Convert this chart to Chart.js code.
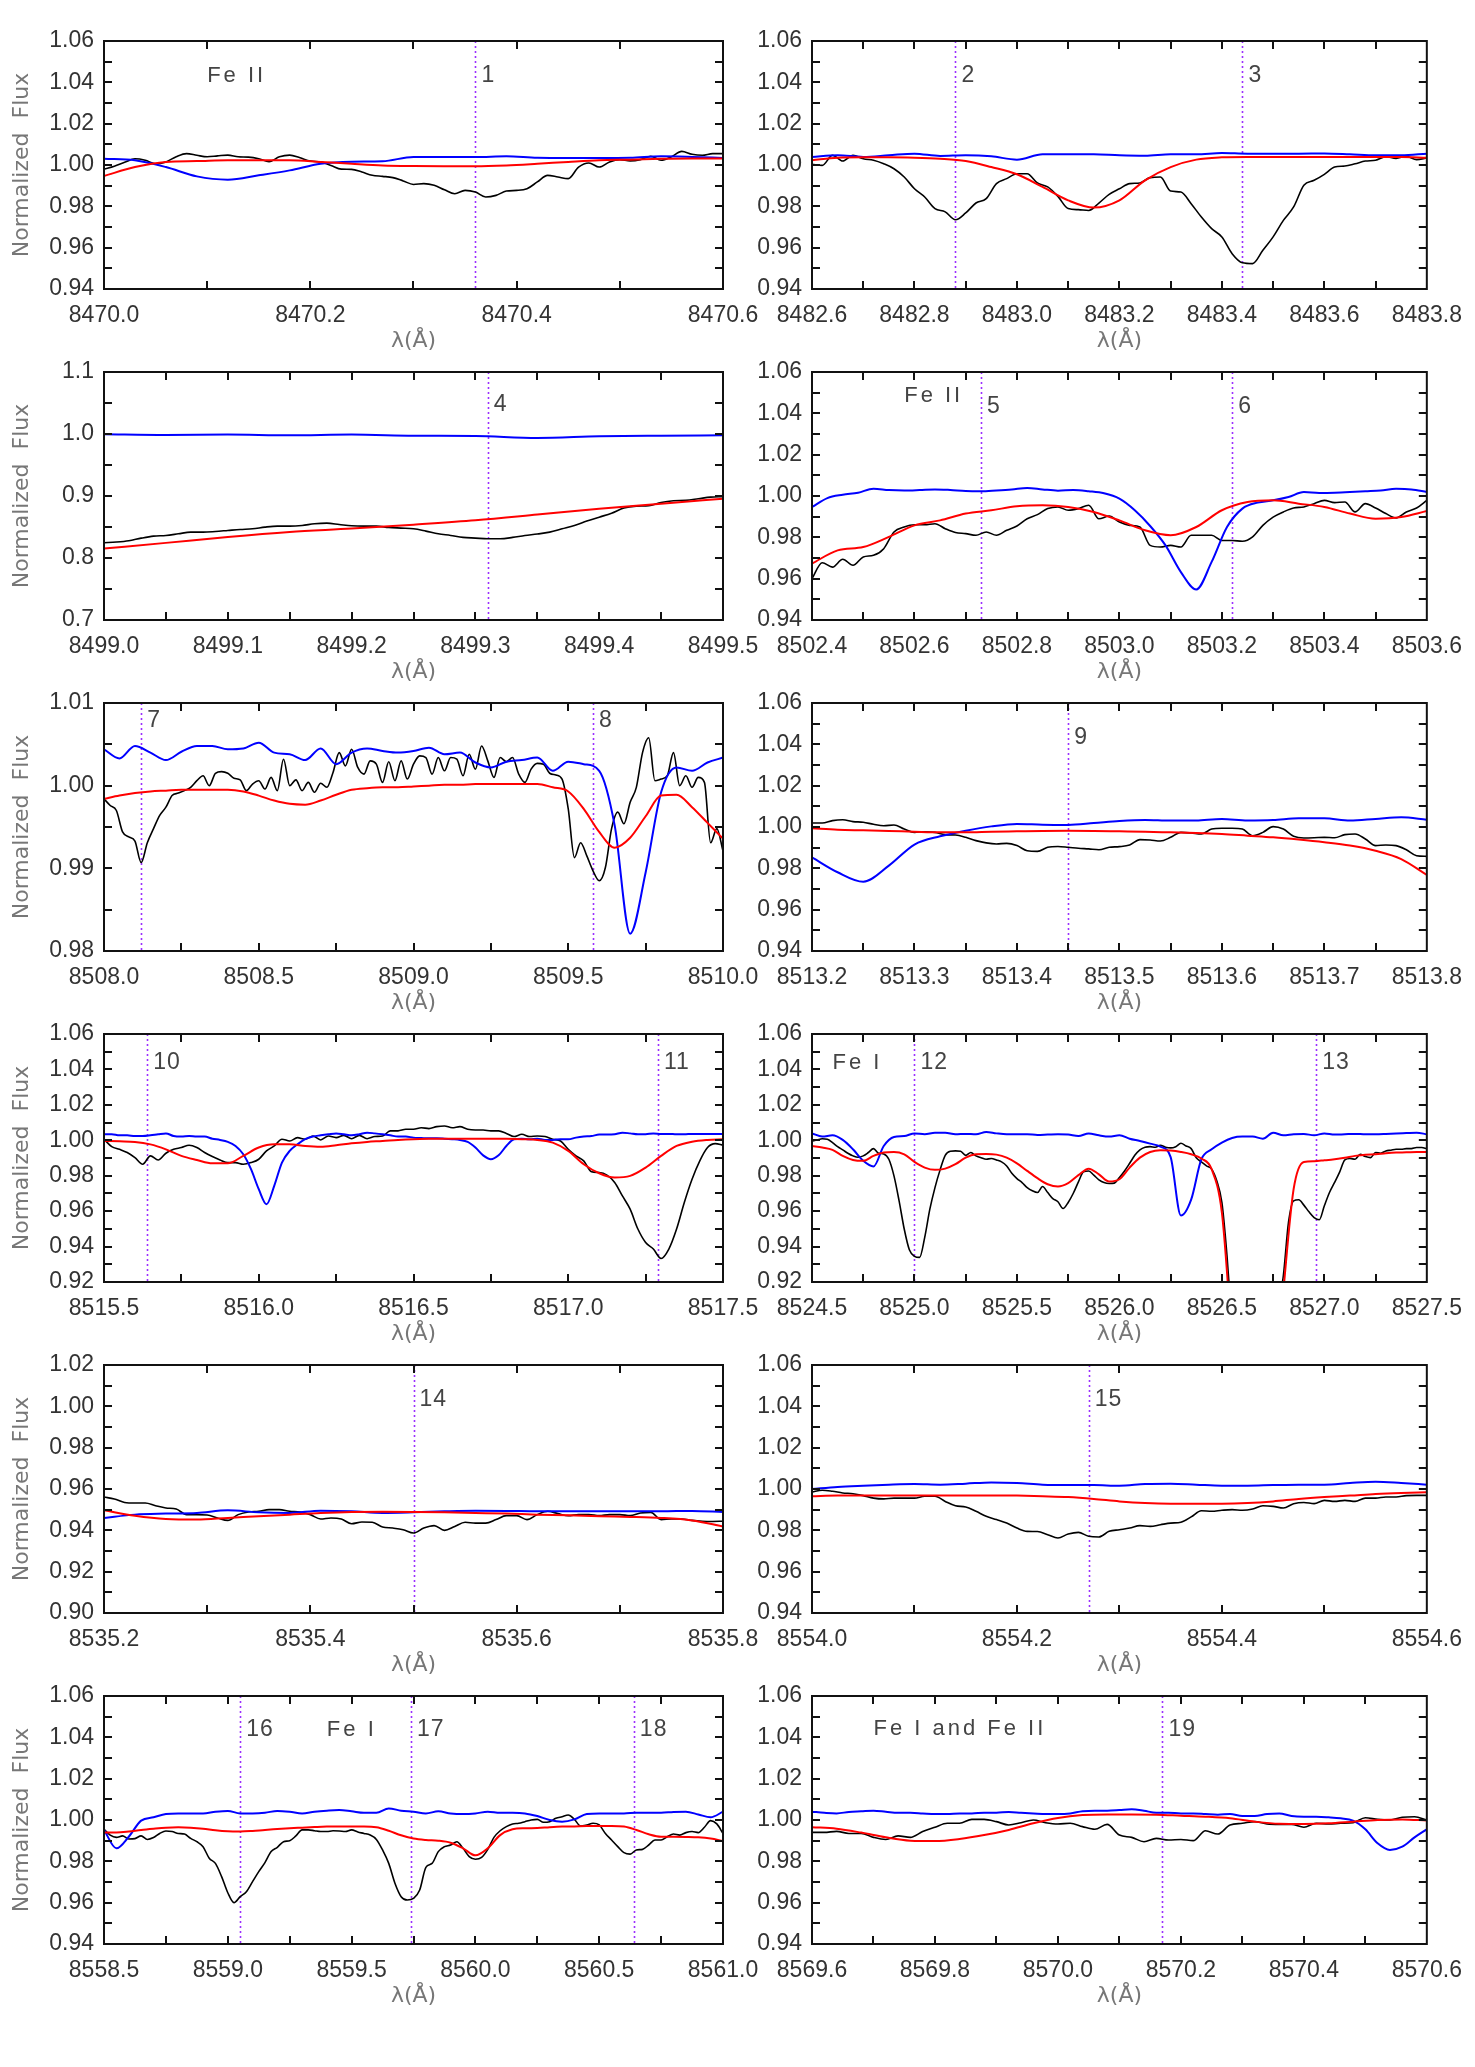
<!DOCTYPE html>
<html>
<head>
<meta charset="utf-8">
<title>Fe line comparison</title>
<script src="https://cdn.jsdelivr.net/npm/chart.js@4.4.1/dist/chart.umd.min.js"></script>
<style>
  body { margin: 0; background: #fff; }
  #page { position: relative; width: 1475px; height: 2067px; background: #fff; }
  #page canvas { position: absolute; }
</style>
</head>
<body>
<div id="page"></div>
<script>
// axis ranges per panel (left to right, top to bottom)
const xMin = [8470.0, 8482.6, 8499.0, 8502.4, 8508.0, 8513.2, 8515.5, 8524.5, 8535.2, 8554.0, 8558.5, 8569.6];
const xMax = [8470.6, 8483.8, 8499.5, 8503.6, 8510.0, 8513.8, 8517.5, 8527.5, 8535.8, 8554.6, 8561.0, 8570.6];
const yMin = [0.94, 0.94, 0.7, 0.94, 0.98, 0.94, 0.92, 0.92, 0.90, 0.94, 0.94, 0.94];
const yMax = [1.06, 1.06, 1.1, 1.06, 1.01, 1.06, 1.06, 1.06, 1.02, 1.06, 1.06, 1.06];

// tick labels
const xTicks = [
  [8470.0, 8470.2, 8470.4, 8470.6],
  [8482.6, 8482.8, 8483.0, 8483.2, 8483.4, 8483.6, 8483.8],
  [8499.0, 8499.1, 8499.2, 8499.3, 8499.4, 8499.5],
  [8502.4, 8502.6, 8502.8, 8503.0, 8503.2, 8503.4, 8503.6],
  [8508.0, 8508.5, 8509.0, 8509.5, 8510.0],
  [8513.2, 8513.3, 8513.4, 8513.5, 8513.6, 8513.7, 8513.8],
  [8515.5, 8516.0, 8516.5, 8517.0, 8517.5],
  [8524.5, 8525.0, 8525.5, 8526.0, 8526.5, 8527.0, 8527.5],
  [8535.2, 8535.4, 8535.6, 8535.8],
  [8554.0, 8554.2, 8554.4, 8554.6],
  [8558.5, 8559.0, 8559.5, 8560.0, 8560.5, 8561.0],
  [8569.6, 8569.8, 8570.0, 8570.2, 8570.4, 8570.6]
];
const fluxTicks = [0.94, 0.96, 0.98, 1.00, 1.02, 1.04, 1.06];
const yTicks = [
  fluxTicks, fluxTicks,
  [0.7, 0.8, 0.9, 1.0, 1.1],
  fluxTicks,
  [0.98, 0.99, 1.00, 1.01],
  fluxTicks,
  [0.92, 0.94, 0.96, 0.98, 1.00, 1.02, 1.04, 1.06],
  [0.92, 0.94, 0.96, 0.98, 1.00, 1.02, 1.04, 1.06],
  [0.90, 0.92, 0.94, 0.96, 0.98, 1.00, 1.02],
  fluxTicks, fluxTicks, fluxTicks
];
const xMinorStep = [0.1, 0.1, 0.05, 0.1, 0.25, 0.05, 0.25, 0.25, 0.1, 0.1, 0.25, 0.1];
const yMinorStep = [0.01, 0.01, 0.05, 0.01, 0.005, 0.01, 0.01, 0.01, 0.01, 0.01, 0.01, 0.01];

// marked lines and their numbers
const lineWaves = [[8470.36], [8482.88, 8483.44], [8499.31], [8502.73, 8503.22], [8508.12, 8509.58], [8513.45],
  [8515.64, 8517.29], [8525.0, 8526.96], [8535.5], [8554.27], [8559.05, 8559.74, 8560.64], [8570.17]];
const lineNames = [['1'], ['2', '3'], ['4'], ['5', '6'], ['7', '8'], ['9'], ['10', '11'], ['12', '13'], ['14'], ['15'],
  ['16', '17', '18'], ['19']];
const ionText = ['Fe II', '', '', 'Fe II', '', '', '', 'Fe I', '', '', 'Fe I', 'Fe I and Fe II'];
const ionWave = [8470.10, null, null, 8502.58, null, null, null, 8524.6, null, null, 8559.40, 8569.70];

// spectra, sampled evenly across each panel's wavelength range
const p1Black = [0.998, 0.9994, 1.0013, 1.003, 1.0023, 1.0006, 1.0015, 1.004, 1.0055, 1.0047,
  1.004, 1.0044, 1.0048, 1.004, 1.0038, 1.003, 1.0016, 1.004, 1.0048, 1.0035,
  1.0019, 1.0015, 0.9998, 0.998, 0.9979, 0.9966, 0.995, 0.9945, 0.9939, 0.9923,
  0.9906, 0.991, 0.9902, 0.988, 0.9861, 0.9877, 0.9869, 0.9845, 0.9853, 0.9874,
  0.9877, 0.9885, 0.9918, 0.995, 0.9942, 0.9934, 0.999, 1.001, 0.999, 1.0015,
  1.0026, 1.002, 1.0026, 1.0042, 1.0023, 1.004, 1.0066, 1.0052, 1.0047, 1.0055, 1.0055];
const p1Blue = [1.003, 1.0023, 0.999, 0.9945, 0.9929, 0.995, 0.9974, 1.0006, 1.0016, 1.0018, 1.0039,
  1.0039, 1.0039, 1.0042, 1.0035, 1.0034, 1.0034, 1.0035, 1.0042, 1.0039, 1.0034];
const p1Red = [0.9947, 0.999, 1.0015, 1.0019, 1.0023, 1.0023, 1.0023, 1.0015, 1.0006, 0.9998, 0.9995,
  0.9994, 0.9994, 0.9998, 1.0006, 1.0015, 1.0023, 1.0026, 1.003, 1.0032, 1.0032];

const p2Black = [1.0003, 0.9998, 1.0047, 1.0019, 1.0047, 1.003, 1.0023, 1.0006, 0.9982, 0.9942,
  0.9885, 0.9845, 0.9789, 0.9773, 0.9735, 0.9768, 0.9816, 0.9837, 0.991, 0.9934,
  0.9958, 0.9958, 0.9913, 0.9894, 0.9848, 0.9789, 0.9784, 0.978, 0.9816, 0.9858,
  0.9885, 0.991, 0.9913, 0.9939, 0.9942, 0.9874, 0.9869, 0.9813, 0.9748, 0.9692,
  0.9652, 0.9571, 0.9527, 0.9523, 0.9587, 0.9652, 0.9732, 0.9797, 0.9902, 0.9926,
  0.9955, 0.999, 0.9995, 1.0006, 1.0019, 1.0023, 1.004, 1.0032, 1.0042, 1.0026, 1.0034];
const p2Blue = [1.0039, 1.0047, 1.0039, 1.0047, 1.0055, 1.0044, 1.0047, 1.0042, 1.0026, 1.0052, 1.0052,
  1.0052, 1.0047, 1.0045, 1.0052, 1.0052, 1.0058, 1.0055, 1.0055, 1.0055, 1.0056, 1.0052, 1.0047, 1.0047, 1.0055];
const p2Red = [1.0023, 1.0035, 1.0037, 1.0037, 1.0035, 1.003, 1.0019, 0.999, 0.9955, 0.9894, 0.9829,
  0.9794, 0.9829, 0.9926, 0.999, 1.0026, 1.0037, 1.0039, 1.0039, 1.0039, 1.0039, 1.0039, 1.0039, 1.0039, 1.0035];

const p3Black = [0.8246, 0.8257, 0.8278, 0.832, 0.8353, 0.8364, 0.839, 0.8417, 0.8417, 0.8428,
  0.8444, 0.846, 0.8471, 0.8498, 0.8514, 0.8514, 0.8525, 0.8552, 0.8562, 0.8541,
  0.852, 0.8514, 0.8514, 0.8493, 0.8482, 0.8471, 0.8434, 0.8391, 0.8364, 0.8332,
  0.8321, 0.831, 0.831, 0.8332, 0.8364, 0.8386, 0.8417, 0.8471, 0.8525, 0.8595,
  0.8659, 0.8723, 0.8806, 0.8836, 0.8845, 0.8896, 0.8923, 0.893, 0.8955, 0.8982, 0.899];
const p3Blue = [0.9995, 0.9984, 0.999, 0.9979, 0.999, 0.9973, 0.9968, 0.9936, 0.9963, 0.9973, 0.9979];
const p3Red = [0.8153, 0.8244, 0.834, 0.842, 0.8474, 0.8538, 0.8608, 0.87, 0.8795, 0.8875, 0.8956];

const p4Black = [0.96, 0.9677, 0.9656, 0.9694, 0.9665, 0.9705, 0.9713, 0.9745, 0.9826, 0.985,
  0.9861, 0.9861, 0.9866, 0.9842, 0.9823, 0.9818, 0.981, 0.9826, 0.981, 0.9834,
  0.9855, 0.989, 0.991, 0.9939, 0.9947, 0.9931, 0.9939, 0.9955, 0.989, 0.9903,
  0.9874, 0.9858, 0.985, 0.9761, 0.9753, 0.9761, 0.9753, 0.981, 0.981, 0.981,
  0.9785, 0.9785, 0.9781, 0.9802, 0.9858, 0.9898, 0.9923, 0.9942, 0.9947, 0.9963,
  0.9979, 0.9968, 0.9971, 0.9923, 0.9963, 0.9942, 0.9915, 0.9894, 0.9923, 0.9942, 0.9979];
const p4Blue = [0.9947, 0.999, 1.0006, 1.0016, 1.0035, 1.0029, 1.0027, 1.0029, 1.0032, 1.0029,
  1.0024, 1.0023, 1.0027, 1.0032, 1.0039, 1.0032, 1.0026, 1.0029, 1.0023, 1.0013,
  0.9987, 0.9931, 0.9855, 0.9761, 0.9632, 0.9548, 0.9681, 0.985, 0.9939, 0.9968,
  0.9979, 0.9995, 1.0019, 1.0015, 1.0016, 1.0019, 1.0023, 1.0027, 1.0035, 1.0032, 1.0019];
const p4Red = [0.9673, 0.9737, 0.9753, 0.9802, 0.9858, 0.9882, 0.9915, 0.9931, 0.995, 0.9955, 0.9947,
  0.9923, 0.9882, 0.9834, 0.981, 0.985, 0.9931, 0.9971, 0.9979, 0.9963, 0.9947, 0.9915, 0.989, 0.9898, 0.9927];

const p5Black = [0.9984, 0.9976, 0.9970, 0.9944, 0.9938, 0.9933, 0.9907, 0.9931, 0.9948, 0.9964,
  0.9974, 0.9988, 0.9991, 0.9994, 0.9998, 1.0006, 1.0012, 1.0000, 1.0015, 1.0017,
  1.0015, 1.0009, 1.0007, 0.9994, 1.0002, 1.0006, 0.9996, 1.0010, 0.9994, 1.0032,
  1.0000, 1.0007, 0.9994, 1.0004, 0.9992, 1.0003, 0.9998, 1.0016, 1.0040, 1.0024,
  1.0044, 1.0022, 1.0014, 1.0030, 1.0026, 1.0004, 1.0029, 1.0006, 1.0030, 1.0008,
  1.0026, 1.0036, 1.0034, 1.0014, 1.0034, 1.0018, 1.0034, 1.0032, 1.0012, 1.0038,
  1.0020, 1.0048, 1.0030, 1.0010, 1.0034, 1.0029, 1.0034, 1.0014, 1.0004, 1.0020,
  1.0027, 1.0026, 1.0015, 1.0013, 1.0008, 0.9972, 0.9913, 0.9931, 0.9915, 0.9897,
  0.9885, 0.9901, 0.9948, 0.9968, 0.9954, 0.9980, 0.9998, 1.0040, 1.0058, 1.0006,
  1.0008, 1.0012, 1.0040, 1.0000, 1.0012, 0.9998, 1.0010, 1.0004, 0.9931, 0.9948, 0.9921];
const p5Blue = [1.0044, 1.0033, 1.0048, 1.0040, 1.0031, 1.0041, 1.0048, 1.0048, 1.0044, 1.0045,
  1.0052, 1.0040, 1.0038, 1.0031, 1.0045, 1.0026, 1.0040, 1.0045, 1.0042, 1.0040,
  1.0042, 1.0046, 1.0038, 1.0040, 1.0028, 1.0022, 1.0029, 1.0031, 1.0034, 1.0018,
  1.0029, 1.0026, 1.0018, 0.9952, 0.9821, 0.9895, 0.9992, 1.0022, 1.0018, 1.0028, 1.0034];
const p5Red = [0.9984, 0.9988, 0.9991, 0.9993, 0.9994, 0.9995, 0.9995, 0.9995, 0.9995, 0.9993,
  0.9988, 0.9982, 0.9978, 0.9977, 0.9982, 0.9989, 0.9995, 0.9997, 0.9998, 0.9998,
  0.9999, 1.0000, 1.0001, 1.0001, 1.0002, 1.0002, 1.0002, 1.0002, 1.0002, 0.9998,
  0.9993, 0.9972, 0.9944, 0.9925, 0.9937, 0.9963, 0.9988, 0.9989, 0.9974, 0.9955, 0.9936];

const p6Black = [1.0019, 1.0019, 1.0031, 1.0035, 1.0026, 1.0023, 1.0013, 1.0006, 1.001, 0.999,
  0.9974, 0.9977, 0.9974, 0.9963, 0.9961, 0.995, 0.9934, 0.9923, 0.9918, 0.9921,
  0.991, 0.9885, 0.9882, 0.9902, 0.9906, 0.9902, 0.9897, 0.9894, 0.989, 0.9902,
  0.9905, 0.9913, 0.9939, 0.9937, 0.9932, 0.995, 0.9974, 0.9971, 0.9966, 0.999,
  0.9994, 0.9994, 0.999, 0.9958, 0.9974, 1.0002, 0.999, 0.9955, 0.9947, 0.9948,
  0.995, 0.9948, 0.9963, 0.9966, 0.9942, 0.991, 0.9913, 0.991, 0.989, 0.9861, 0.9858];
const p6Blue = [0.9853, 0.9781, 0.9735, 0.9813, 0.9915, 0.9955, 0.9982, 1.0003, 1.0015, 1.0011, 1.001,
  1.0019, 1.0029, 1.0034, 1.0031, 1.0032, 1.0039, 1.0032, 1.0034, 1.0042, 1.0042, 1.0031, 1.0039, 1.0047, 1.0035];
const p6Red = [0.9994, 0.9987, 0.9984, 0.9981, 0.9977, 0.9974, 0.9974, 0.9977, 0.9979, 0.9981, 0.9982,
  0.9981, 0.9979, 0.9977, 0.9974, 0.9971, 0.9966, 0.9958, 0.995, 0.9939, 0.9926, 0.991, 0.9885, 0.9845, 0.9768];

const p7Black = [1.0006, 0.9964, 0.9949, 0.9931, 0.9902, 0.9865, 0.9912, 0.9889, 0.9927, 0.9949,
  0.9959, 0.9972, 0.9959, 0.9931, 0.9908, 0.9889, 0.9874, 0.9874, 0.9865, 0.9874,
  0.9893, 0.994, 0.9968, 1.0006, 0.9996, 1.0015, 1.0006, 1.0024, 1.0002, 1.0024,
  1.0015, 1.0028, 1.0009, 1.0028, 1.0009, 1.0021, 1.0024, 1.0053, 1.0053, 1.0062,
  1.0062, 1.0071, 1.0066, 1.0077, 1.0081, 1.0071, 1.0077, 1.0062, 1.0058, 1.0058,
  1.0053, 1.0053, 1.0039, 1.0021, 1.0034, 1.0021, 1.0024, 1.0021, 1.0006, 0.9996,
  0.9949, 0.9912, 0.9884, 0.9822, 0.9818, 0.9803, 0.9762, 0.9686, 0.9611, 0.9499,
  0.9423, 0.9386, 0.9333, 0.9386, 0.9499, 0.9649, 0.978, 0.9884, 0.9959, 0.9981, 0.9972];
const p7Blue = [1.0034, 1.0034, 1.0028, 1.0028, 1.0024, 1.0024, 1.0028, 1.0034, 1.0039, 1.0024,
  1.0021, 1.0024, 1.0021, 1.0021, 1.0009, 1.0002, 0.9991, 0.9968, 0.9921, 0.9837,
  0.9724, 0.9639, 0.9743, 0.9874, 0.994, 0.9977, 1.0006, 1.0021, 1.0028, 1.0034,
  1.0039, 1.0034, 1.0028, 1.0034, 1.0043, 1.0039, 1.0034, 1.0028, 1.0021, 1.0021,
  1.0015, 1.0013, 1.0011, 1.0011, 1.0009, 1.0006, 1.0002, 0.9991, 0.9959, 0.9915,
  0.9893, 0.9915, 0.9968, 1.0006, 1.0009, 1.0006, 1.0009, 1.0002, 1.0002, 1.0006,
  1.0006, 1.0015, 1.0021, 1.0024, 1.0032, 1.0032, 1.0034, 1.0043, 1.0039, 1.0034,
  1.0034, 1.0039, 1.0036, 1.0036, 1.0034, 1.0034, 1.0036, 1.0036, 1.0036, 1.0036, 1.0036];
const p7Red = [0.9996, 0.9994, 0.9991, 0.9977, 0.9949, 0.9912, 0.9889, 0.987, 0.987, 0.9912,
  0.9959, 0.9977, 0.9977, 0.9968, 0.9964, 0.9972, 0.9983, 0.9991, 0.9996, 1.0002,
  1.0006, 1.0008, 1.0009, 1.0009, 1.0009, 1.0009, 1.0008, 1.0006, 1.0002, 0.9987,
  0.994, 0.9865, 0.9814, 0.979, 0.9799, 0.9846, 0.9912, 0.9968, 0.9992, 1.0002, 1.0006];

const p8Black = [0.9996, 1.0002, 1.0009, 1.0006, 0.9987, 0.9964, 0.9946, 0.9927, 0.9912, 0.9904,
  0.9912, 0.9931, 0.9953, 0.9927, 0.9923, 0.9893, 0.9799, 0.9658, 0.9499, 0.9382,
  0.9345, 0.9339, 0.9452, 0.9611, 0.9733, 0.9833, 0.9915, 0.9938, 0.994, 0.9938,
  0.9915, 0.9931, 0.9912, 0.9902, 0.9893, 0.9897, 0.9889, 0.9878, 0.9855, 0.9814,
  0.9784, 0.9761, 0.9733, 0.9715, 0.9705, 0.9739, 0.9705, 0.9671, 0.9653, 0.9615,
  0.9649, 0.9701, 0.9765, 0.9822, 0.9827, 0.9803, 0.9777, 0.9761, 0.9756, 0.9758,
  0.979, 0.9827, 0.987, 0.9915, 0.9946, 0.9961, 0.9964, 0.9961, 0.9972, 0.9961,
  0.9957, 0.9964, 0.9983, 0.9968, 0.9953, 0.9902, 0.9878, 0.9855, 0.9837, 0.9771,
  0.9649, 0.9348, 0.895, 0.85, 0.85, 0.85, 0.85, 0.85, 0.85, 0.85,
  0.87, 0.905, 0.9236, 0.9536, 0.9658, 0.9664, 0.9634, 0.9596, 0.9564, 0.9551,
  0.963, 0.9705, 0.9762, 0.9822, 0.9889, 0.9897, 0.9893, 0.9921, 0.9908, 0.9902,
  0.9931, 0.9927, 0.994, 0.9944, 0.9949, 0.9949, 0.9953, 0.9953, 0.9959, 0.9959, 0.9953];
const p8Blue = [1.0039, 1.0021, 1.0028, 1.0002, 0.9949, 0.9884, 0.9852, 0.9968, 1.0019, 1.0024,
  1.0039, 1.0034, 1.0043, 1.0043, 1.0034, 1.0036, 1.0034, 1.0047, 1.0039, 1.0034,
  1.0034, 1.0034, 1.003, 1.0032, 1.0034, 1.0032, 1.0024, 1.0039, 1.0028, 1.0021,
  1.0028, 1.0009, 0.9996, 0.9981, 0.9964, 0.9905, 0.9575, 0.9665, 0.9893, 0.9949,
  0.9987, 1.0013, 1.0021, 1.0021, 1.0009, 1.0043, 1.0028, 1.0034, 1.0036, 1.0028,
  1.0039, 1.0032, 1.0034, 1.0036, 1.0034, 1.0034, 1.0036, 1.0039, 1.0041, 1.0043, 1.0034];
const p8Red = [0.9968, 0.9959, 0.9946, 0.9912, 0.9889, 0.9884, 0.9912, 0.9931, 0.9934, 0.9921,
  0.9878, 0.9846, 0.9833, 0.984, 0.9865, 0.9902, 0.9921, 0.9923, 0.9919, 0.9902,
  0.987, 0.9827, 0.9786, 0.9752, 0.9739, 0.9758, 0.9803, 0.984, 0.9808, 0.9767,
  0.978, 0.9846, 0.9902, 0.9934, 0.9944, 0.9942, 0.9934, 0.9921, 0.9897, 0.9837,
  0.9592, 0.89, 0.85, 0.85, 0.85, 0.85, 0.915, 0.9724, 0.9878, 0.9882,
  0.9887, 0.9893, 0.9902, 0.9912, 0.9919, 0.9921, 0.9927, 0.9931, 0.9932, 0.9934, 0.9934];

const p9Black = [0.9561, 0.9552, 0.9535, 0.9532, 0.9532, 0.9519, 0.9508, 0.9503, 0.9476, 0.9476,
  0.9474, 0.946, 0.9448, 0.9476, 0.9489, 0.9492, 0.95, 0.95, 0.9492, 0.9489,
  0.9476, 0.9455, 0.946, 0.9455, 0.9432, 0.944, 0.9439, 0.9416, 0.9411, 0.9403,
  0.9387, 0.9411, 0.9423, 0.94, 0.9419, 0.9439, 0.9435, 0.9435, 0.9452, 0.9471,
  0.9471, 0.9452, 0.9476, 0.9492, 0.9481, 0.9471, 0.9476, 0.9476, 0.9471, 0.9476,
  0.9476, 0.9471, 0.9484, 0.9487, 0.9452, 0.9455, 0.9455, 0.9448, 0.9444, 0.9443, 0.9444];
const p9Blue = [0.946, 0.9476, 0.9481, 0.9484, 0.9497, 0.9487, 0.9484, 0.9495, 0.9492, 0.9484, 0.9487,
  0.9492, 0.9495, 0.9494, 0.9492, 0.9492, 0.9492, 0.9492, 0.9492, 0.9494, 0.9489];
const p9Red = [0.9497, 0.9471, 0.9455, 0.9452, 0.946, 0.9468, 0.9476, 0.9484, 0.9489, 0.949, 0.9489,
  0.9487, 0.9484, 0.9481, 0.9476, 0.9473, 0.9468, 0.9465, 0.946, 0.9448, 0.9419];

const p10Black = [0.9985, 0.9994, 0.9989, 0.9981, 0.9977, 0.9968, 0.9956, 0.9952, 0.9956, 0.9956,
  0.9956, 0.9965, 0.9965, 0.994, 0.9919, 0.9913, 0.9892, 0.9868, 0.9852, 0.9835,
  0.9811, 0.9795, 0.9794, 0.9779, 0.9763, 0.9782, 0.979, 0.9771, 0.9768, 0.9795,
  0.9803, 0.9811, 0.9823, 0.9819, 0.9827, 0.9835, 0.9839, 0.9865, 0.9895, 0.9892,
  0.9897, 0.99, 0.9897, 0.9903, 0.9919, 0.9916, 0.9908, 0.9929, 0.9935, 0.9929,
  0.9945, 0.994, 0.9945, 0.994, 0.9956, 0.9956, 0.9961, 0.9961, 0.9968, 0.9969, 0.9969];
const p10Blue = [1.0, 1.001, 1.0016, 1.0021, 1.0024, 1.0021, 1.0026, 1.0032, 1.0029, 1.0021, 1.0019,
  1.0019, 1.0016, 1.0024, 1.0026, 1.0021, 1.0016, 1.0016, 1.0019, 1.0021, 1.0021, 1.0029, 1.0035, 1.0029, 1.0021];
const p10Red = [0.9965, 0.9968, 0.9968, 0.9969, 0.9969, 0.9969, 0.9969, 0.9969, 0.9968, 0.9965, 0.9961,
  0.9952, 0.994, 0.9932, 0.9929, 0.9929, 0.9929, 0.9932, 0.994, 0.9952, 0.9961, 0.9968, 0.9976, 0.9981, 0.9984];

const p11Black = [0.9955, 0.9927, 0.9916, 0.9923, 0.9908, 0.991, 0.9923, 0.9906, 0.9915, 0.9935,
  0.9947, 0.9944, 0.9935, 0.9932, 0.9911, 0.9895, 0.9871, 0.9815, 0.979, 0.9726,
  0.9648, 0.96, 0.9629, 0.9653, 0.9702, 0.975, 0.9794, 0.9847, 0.9868, 0.9895,
  0.99, 0.9923, 0.9952, 0.9952, 0.9948, 0.9944, 0.9944, 0.9948, 0.9947, 0.9944,
  0.9952, 0.9942, 0.9935, 0.9927, 0.9906, 0.9855, 0.979, 0.9694, 0.9629, 0.9613,
  0.9621, 0.9661, 0.9771, 0.979, 0.9847, 0.9871, 0.9879, 0.9895, 0.9863, 0.9823,
  0.981, 0.9819, 0.9858, 0.9916, 0.9948, 0.9968, 0.9981, 0.9984, 0.9992, 1.0,
  1.0003, 0.9989, 0.9992, 1.0008, 1.0016, 1.0024, 1.0003, 0.9971, 0.9976, 0.9984,
  0.9976, 0.9935, 0.9903, 0.9871, 0.9842, 0.9835, 0.9855, 0.9858, 0.9879, 0.9903,
  0.9903, 0.9919, 0.9932, 0.9927, 0.9939, 0.9944, 0.9939, 0.9965, 0.9997, 0.9981, 0.9935];
const p11Blue = [0.9952, 0.9863, 0.9919, 0.9997, 1.0013, 1.0029, 1.0032, 1.0032, 1.0032, 1.004,
  1.0044, 1.0032, 1.0032, 1.0035, 1.0044, 1.004, 1.0032, 1.004, 1.0045, 1.0048,
  1.0042, 1.0035, 1.0035, 1.0056, 1.0045, 1.004, 1.0032, 1.0042, 1.0032, 1.0029,
  1.0032, 1.004, 1.0035, 1.0035, 1.0032, 1.0019, 1.0, 0.9992, 1.0003, 1.0029,
  1.0032, 1.0032, 1.0032, 1.0035, 1.0035, 1.0035, 1.0039, 1.004, 1.0027, 1.0013, 1.004];
const p11Red = [0.9939, 0.9939, 0.9944, 0.9952, 0.9958, 0.9963, 0.9965, 0.9963, 0.9958, 0.995,
  0.9945, 0.9944, 0.9947, 0.9952, 0.9956, 0.996, 0.9963, 0.9966, 0.9968, 0.9968,
  0.9968, 0.9968, 0.9965, 0.9948, 0.9926, 0.991, 0.9903, 0.99, 0.989, 0.9863,
  0.9829, 0.9863, 0.9927, 0.9955, 0.996, 0.9961, 0.9965, 0.9968, 0.9969, 0.9971,
  0.9971, 0.9971, 0.9968, 0.9952, 0.9931, 0.9919, 0.9919, 0.9918, 0.9916, 0.991, 0.9898];

const p12Black = [0.994, 0.994, 0.9945, 0.9935, 0.9935, 0.9916, 0.9906, 0.9923, 0.9916, 0.9944,
  0.9965, 0.9984, 0.9984, 1.0003, 1.0003, 0.9992, 0.9976, 0.9987, 1.0, 0.9987,
  0.9981, 0.9984, 0.9968, 0.9955, 0.9979, 0.9927, 0.9916, 0.9895, 0.9911, 0.9903,
  0.9906, 0.99, 0.9948, 0.9932, 0.9976, 0.9984, 0.9992, 0.9981, 0.9979, 0.9979,
  0.9965, 0.9984, 0.9981, 0.9984, 0.9987, 1.0011, 1.0003, 1.0, 1.0013, 1.0016, 1.0];
const p12Blue = [1.004, 1.0035, 1.0032, 1.0039, 1.0042, 1.0045, 1.004, 1.0035, 1.0035, 1.0032,
  1.0029, 1.0029, 1.0032, 1.0032, 1.0035, 1.0035, 1.0039, 1.0035, 1.0032, 1.0029,
  1.0029, 1.0032, 1.0042, 1.0045, 1.0045, 1.0048, 1.0052, 1.0045, 1.0035, 1.0035,
  1.0032, 1.0032, 1.0029, 1.0026, 1.0029, 1.0019, 1.0019, 1.0029, 1.0032, 1.0019,
  1.0016, 1.0016, 1.0013, 1.0008, 0.9997, 0.9955, 0.9887, 0.9855, 0.9871, 0.9916, 0.9955];
const p12Red = [0.9965, 0.9958, 0.9939, 0.9916, 0.99, 0.9898, 0.9908, 0.9927, 0.9952, 0.9984, 1.001,
  1.0024, 1.0027, 1.0027, 1.0026, 1.0021, 1.0016, 1.0008, 0.9992, 0.9982, 0.9981, 0.9984, 0.9992, 1.0, 1.0003, 0.9997];

const blacks = [p1Black, p2Black, p3Black, p4Black, p5Black, p6Black, p7Black, p8Black, p9Black, p10Black, p11Black, p12Black];
const blues = [p1Blue, p2Blue, p3Blue, p4Blue, p5Blue, p6Blue, p7Blue, p8Blue, p9Blue, p10Blue, p11Blue, p12Blue];
const reds = [p1Red, p2Red, p3Red, p4Red, p5Red, p6Red, p7Red, p8Red, p9Red, p10Red, p11Red, p12Red];

// where the line numbers sit, as a fraction of the plot height from the top
const labelFrac = [0.139, 0.139, 0.13, 0.139, 0.071, 0.141, 0.115, 0.115, 0.139, 0.139, 0.135, 0.134];
const ionFrac = [0.139, 0, 0, 0.096, 0, 0, 0, 0.115, 0, 0, 0.135, 0.134];

// spread a sampled series evenly over the wavelength range
function onGrid(lo, hi, ys) {
  const n = ys.length - 1;
  return ys.map((y, i) => ({ x: lo + (hi - lo) * i / n, y: y }));
}

// IDL-style box with inward ticks on all four sides
const framePlugin = {
  id: 'frame',
  afterDatasetsDraw(chart, args, opts) {
    const { ctx, chartArea: a, scales: { x, y } } = chart;
    const len = 8;
    ctx.save();
    ctx.strokeStyle = '#111';
    ctx.lineWidth = 2;
    ctx.beginPath();
    const nx = Math.round((x.max - x.min) / opts.xMinor);
    for (let i = 1; i < nx; i++) {
      const px = Math.round(x.getPixelForValue(x.min + i * opts.xMinor));
      ctx.moveTo(px, a.bottom); ctx.lineTo(px, a.bottom - len);
      ctx.moveTo(px, a.top); ctx.lineTo(px, a.top + len);
    }
    const ny = Math.round((y.max - y.min) / opts.yMinor);
    for (let i = 1; i < ny; i++) {
      const py = Math.round(y.getPixelForValue(y.min + i * opts.yMinor));
      ctx.moveTo(a.left, py); ctx.lineTo(a.left + len, py);
      ctx.moveTo(a.right, py); ctx.lineTo(a.right - len, py);
    }
    ctx.stroke();
    ctx.strokeRect(a.left, a.top, a.right - a.left, a.bottom - a.top);
    ctx.restore();
  }
};

// dotted line markers with their numbers, plus the ion name
const markerPlugin = {
  id: 'markers',
  beforeDatasetsDraw(chart, args, opts) {
    const { ctx, chartArea: a, scales: { x } } = chart;
    ctx.save();
    ctx.strokeStyle = '#9b30ff';
    ctx.lineWidth = 1.6;
    ctx.setLineDash([2, 3]);
    opts.waves.forEach((w) => {
      const px = Math.round(x.getPixelForValue(w)) + 0.5;
      ctx.beginPath();
      ctx.moveTo(px, a.top);
      ctx.lineTo(px, a.bottom);
      ctx.stroke();
    });
    ctx.restore();
  },
  afterDatasetsDraw(chart, args, opts) {
    const { ctx, chartArea: a, scales: { x } } = chart;
    const h = a.bottom - a.top;
    ctx.save();
    ctx.fillStyle = '#444';
    ctx.textAlign = 'left';
    ctx.textBaseline = 'middle';
    ctx.font = '23px "Liberation Sans", Arial, sans-serif';
    ctx.letterSpacing = '1px';
    opts.waves.forEach((w, i) => {
      ctx.fillText(opts.names[i], x.getPixelForValue(w) + 6, a.top + h * opts.frac);
    });
    if (opts.ion) {
      ctx.letterSpacing = '3px';
      ctx.font = '22px "Liberation Sans", Arial, sans-serif';
      ctx.fillText(opts.ion, x.getPixelForValue(opts.ionAt), a.top + h * opts.ionFrac);
    }
    ctx.restore();
  }
};

Chart.register(framePlugin, markerPlugin);
Chart.defaults.font.family = '"Liberation Sans", Arial, sans-serif';

const page = document.getElementById('page');
const rowTop = 41, rowGap = 331;
const tickFont = { family: '"Liberation Sans", Arial, sans-serif', size: 23 };
const titleFont = { family: '"DejaVu Sans", sans-serif', size: 22 };

for (let k = 0; k < 12; k++) {
  const col = k % 2, row = Math.floor(k / 2);
  const w = col === 0 ? 790 : 737, h = 344;
  const canvas = document.createElement('canvas');
  canvas.width = w;
  canvas.height = h;
  canvas.style.left = (col === 0 ? 0 : 738) + 'px';
  canvas.style.top = (rowTop + row * rowGap - 24) + 'px';
  page.appendChild(canvas);

  const yDigits = k === 2 ? 1 : 2;
  new Chart(canvas.getContext('2d'), {
    type: 'line',
    data: {
      datasets: [
        { data: onGrid(xMin[k], xMax[k], reds[k]), borderColor: '#ff0000', borderWidth: 2, order: 1 },
        { data: onGrid(xMin[k], xMax[k], blues[k]), borderColor: '#0000ff', borderWidth: 2, order: 2 },
        { data: onGrid(xMin[k], xMax[k], blacks[k]), borderColor: '#000000', borderWidth: 1.6, order: 3 }
      ]
    },
    options: {
      responsive: false,
      animation: false,
      events: [],
      layout: { padding: { left: 0, right: col === 0 ? 67 : 42, top: 24, bottom: 3 } },
      elements: {
        point: { radius: 0 },
        line: { cubicInterpolationMode: 'monotone', fill: false }
      },
      plugins: {
        legend: { display: false },
        tooltip: { enabled: false },
        frame: { xMinor: xMinorStep[k], yMinor: yMinorStep[k] },
        markers: {
          waves: lineWaves[k], names: lineNames[k], frac: labelFrac[k],
          ion: ionText[k], ionAt: ionWave[k], ionFrac: ionFrac[k]
        }
      },
      scales: {
        x: {
          type: 'linear',
          min: xMin[k],
          max: xMax[k],
          afterBuildTicks: (s) => { s.ticks = xTicks[k].map((v) => ({ value: v })); },
          afterFit: (s) => { s.height = 69; },
          grid: { display: false, drawTicks: false },
          border: { display: false },
          ticks: {
            autoSkip: false, maxRotation: 0, padding: 13,
            font: tickFont, color: '#333',
            callback: (v) => Number(v).toFixed(1)
          },
          title: {
            display: true, text: 'λ(Å)', font: titleFont, color: '#777',
            padding: { top: 0, bottom: 4 }
          }
        },
        y: {
          type: 'linear',
          min: yMin[k],
          max: yMax[k],
          afterBuildTicks: (s) => { s.ticks = yTicks[k].map((v) => ({ value: v })); },
          afterFit: (s) => { s.width = col === 0 ? 104 : 74; },
          grid: { display: false, drawTicks: false },
          border: { display: false },
          ticks: {
            autoSkip: false, padding: 10,
            font: tickFont, color: '#333',
            callback: (v) => Number(v).toFixed(yDigits)
          },
          title: {
            display: col === 0, text: 'Normalized  Flux', font: titleFont, color: '#777',
            padding: { top: 9, bottom: 0 }
          }
        }
      }
    }
  });
}
</script>
</body>
</html>
